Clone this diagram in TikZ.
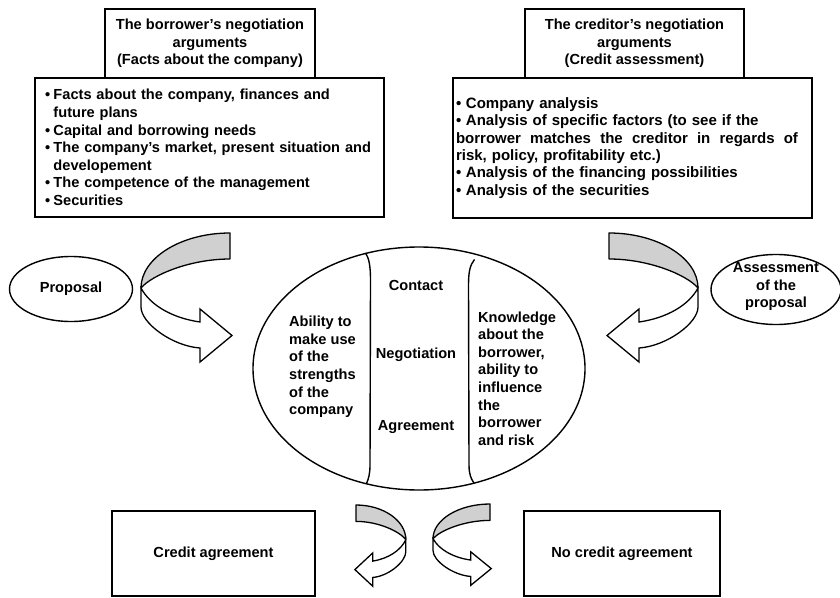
\documentclass[tikz,border=0pt]{standalone}
\usepackage{fontspec}
\setmainfont{Liberation Sans}
\usetikzlibrary{shapes.geometric}
\definecolor{bandgray}{RGB}{208,208,208}
% bullet and hanging indent for the argument lists
\newcommand\bul{\makebox[8.5pt][l]{•}}
\newcommand\hng{\hspace*{8.5pt}}
\newcommand\bulb{\makebox[10pt][l]{•}}
% a line spread to a given width by widening its word spaces
\newcommand\spread[2]{\makebox[#1][s]{\spaceskip=.3333em plus 1fil\relax #2}}

\tikzset{
  % twisted ribbon arrow: grey inner band on top, white outer band ending in an arrow head
  ribbon/.pic={
    \filldraw[fill=bandgray, line width=1.3pt, line join=round]
      (0,0) .. controls (-49,0) and (-89,25) .. (-89,55)
      .. controls (-78,42) and (-40,26) .. (0,26) -- cycle;
    \filldraw[fill=white, line width=1.3pt]
      (-89,55) -- (-89,74) .. controls (-89,90) and (-58,113) .. (-30,115)
      -- (-30,129) -- (2,102.5) -- (-30,76) -- (-30,89)
      .. controls (-58,85) and (-80,72) .. (-89,55) -- cycle;
  }
}

\begin{document}
\begin{tikzpicture}[x=1pt,y=-1pt,
  every node/.style={font=\bfseries\fontsize{14.6}{17.6}\selectfont, inner sep=0pt},
  frame/.style={draw, line width=1.8pt, fill=white},
  oval/.style={ellipse, draw, line width=1.4pt},
  divider/.style={line width=1.4pt}]
\useasboundingbox (0,0) rectangle (840,597);

% borrower side
\node[frame, minimum width=210, minimum height=69, align=center] (bhead) at (210,43.5)
  {The borrower’s negotiation\\arguments\\(Facts about the company)};
\node[frame, minimum width=349, minimum height=139, text width=329, align=left] (blist) at (209.5,147.5)
  {\bul Facts about the company, finances and\\
   \hng future plans\\
   \bul Capital and borrowing needs\\
   \bul The company’s market, present situation and\\
   \hng developement\\
   \bul The competence of the management\\
   \bul Securities};

% creditor side
\node[frame, minimum width=219, minimum height=69, align=center] (chead) at (634.5,43.5)
  {The creditor’s negotiation\\arguments\\(Credit assessment)};
\node[frame, minimum width=359, minimum height=140, text width=353, align=left,
      font=\bfseries\fontsize{15}{17.4}\selectfont] (clist) at (632.5,148)
  {\bulb Company analysis\\
   \bulb\spread{287pt}{Analysis of specific factors (to see if the}\\
   \spread{342pt}{borrower matches the creditor in regards of}\\
   risk, policy, profitability etc.)\\
   \bulb Analysis of the financing possibilities\\
   \bulb Analysis of the securities};

% proposal and its assessment
\node[oval, minimum width=123, minimum height=65] (prop) at (71,289) {Proposal};
\node[oval, minimum width=130, minimum height=70] (assess) at (776,289.5) {};
\node[align=center] (assesstxt) at ([yshift=3pt]assess.center) {Assessment\\of the\\proposal};

% negotiation core
\node[oval, minimum width=332, minimum height=243] (core) at (419,368.5) {};
\coordinate (lt) at (365.5,253);
\coordinate (lb) at (366.5,483.5);
\coordinate (rt) at (474.5,259.5);
\coordinate (rb) at (474,483);
\draw[divider] (lt) .. controls (369,258) and (370.5,266) .. (370.5,280)
  -- (370,465) .. controls (370,474) and (368.5,479) .. (lb);
\draw[divider] (rt) .. controls (470,265) and (468.5,272) .. (468.5,285)
  -- (469,465) .. controls (469,474) and (471,479) .. (rb);

\node[anchor=west, align=left] (strength) at (289,367)
  {Ability to\\make use\\of the\\strengths\\of the\\company};
\node (contact) at (416,285) {Contact};
\node (nego) at (416,355) {Negotiation};
\node (agree) at (416,427) {Agreement};
\node[anchor=west, align=left] (know) at (478,378.5)
  {Knowledge\\about the\\borrower,\\ability to\\influence\\the\\borrower\\and risk};

% outcomes
\node[frame, minimum width=203, minimum height=85] (yes) at (213.5,553.5) {Credit agreement};
\node[frame, minimum width=196, minimum height=85] (no) at (622,553.5) {No credit agreement};

% ribbon arrows
\pic (arrowL) at (230,233) {ribbon};
\pic[xscale=-1] (arrowR) at (609,233) {ribbon};
\pic[xscale=-0.56, yscale=0.63] (arrowYes) at (356,505) {ribbon};
\pic[xscale=0.64, yscale=0.63] (arrowNo) at (490,504) {ribbon};
\end{tikzpicture}
\end{document}
